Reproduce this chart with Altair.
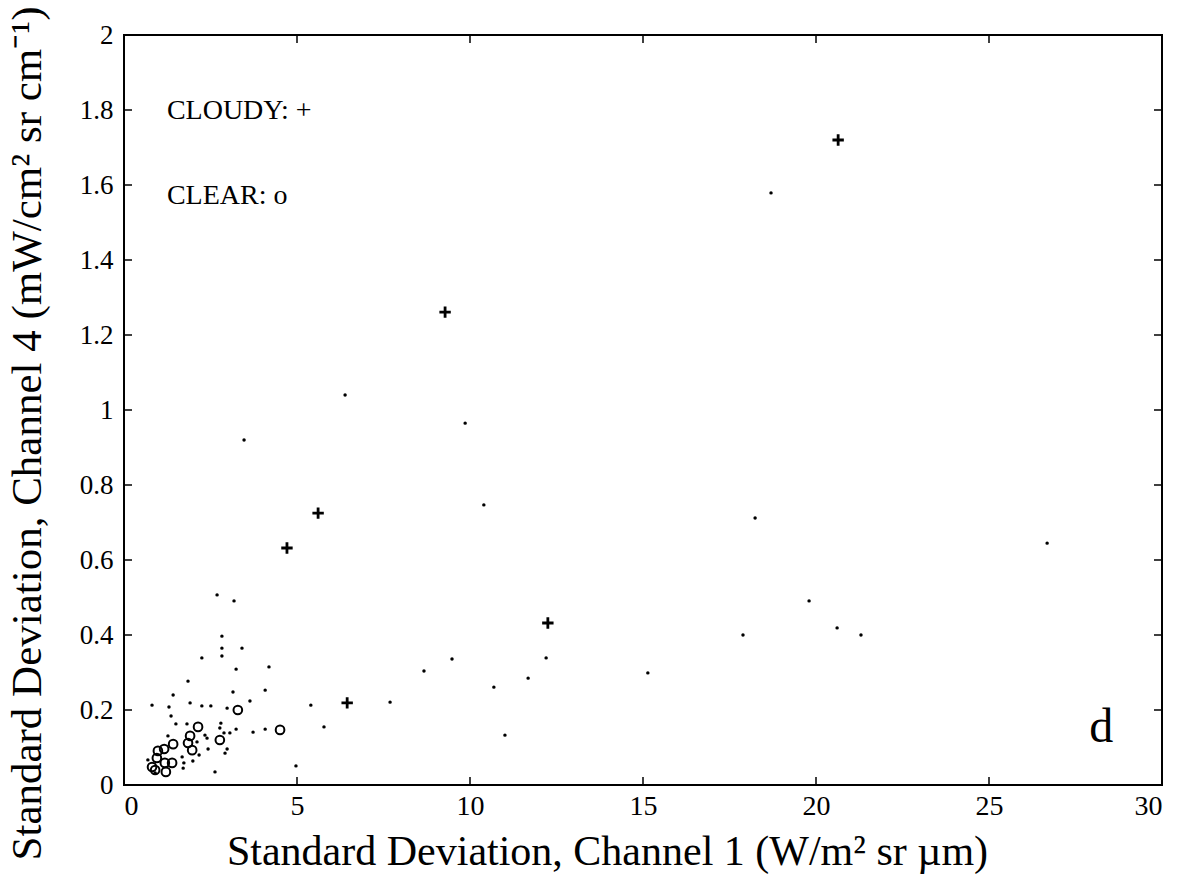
import altair as alt
import pandas as pd

# ---- data ----
cloudy_x = [20.64, 9.28, 5.61, 4.71, 12.25, 6.45]
cloudy_y = [1.72, 1.261, 0.725, 0.632, 0.432, 0.219]

clear_x = [3.29, 4.51, 2.14, 1.91, 1.85, 1.97, 2.77, 1.42, 1.16, 0.98, 1.18, 1.21, 1.39, 0.81, 0.90, 0.95]
clear_y = [0.200, 0.147, 0.155, 0.131, 0.112, 0.093, 0.120, 0.109, 0.096, 0.091, 0.059, 0.035, 0.059, 0.048, 0.040, 0.072]

other_x = [3.47, 6.39, 9.86, 10.40, 18.70, 18.24, 26.68, 19.80, 17.89, 20.61, 21.30, 15.14, 12.20,
           11.68, 11.01, 10.69, 9.48, 8.67, 7.69, 5.78, 5.40, 4.97, 4.19, 4.08, 3.73, 4.08, 2.69,
           3.18, 2.83, 2.83, 3.41, 2.83, 2.25, 3.24, 1.85, 3.15, 1.42, 3.64, 0.81, 1.30, 1.91, 2.25,
           2.51, 2.98, 1.36, 1.50, 1.82, 2.80, 2.77, 3.24, 1.27, 2.11, 2.40, 2.43, 2.17, 1.68, 1.73,
           1.71, 1.99, 2.89, 3.06, 2.98, 2.92, 2.63, 0.69, 0.90, 2.34]
other_y = [0.92, 1.04, 0.965, 0.747, 1.579, 0.712, 0.645, 0.491, 0.40, 0.419, 0.40, 0.299, 0.339,
           0.285, 0.133, 0.261, 0.336, 0.304, 0.221, 0.155, 0.213, 0.051, 0.315, 0.253, 0.141, 0.149, 0.507,
           0.491, 0.397, 0.365, 0.365, 0.344, 0.339, 0.309, 0.277, 0.248, 0.24, 0.224, 0.213, 0.208, 0.219, 0.211,
           0.211, 0.205, 0.184, 0.163, 0.163, 0.165, 0.152, 0.149, 0.131, 0.115, 0.125, 0.096, 0.080, 0.075, 0.059,
           0.045, 0.064, 0.139, 0.139, 0.096, 0.085, 0.035, 0.067, 0.032, 0.133]

x_ticks = [5, 10, 15, 20, 25]
y_ticks = [0.2, 0.4, 0.6, 0.8, 1.0, 1.2, 1.4, 1.6, 1.8]
x_labels = [0, 5, 10, 15, 20, 25, 30]
y_labels = [0, 0.2, 0.4, 0.6, 0.8, 1, 1.2, 1.4, 1.6, 1.8, 2]

legend_text = ["CLOUDY: +", "CLEAR: o"]
legend_x = [1.24, 1.24]
legend_y = [1.797, 1.57]

panel_text = ["d"]
panel_x = [27.9]
panel_y = [0.115]

X_TITLE = "Standard Deviation, Channel 1 (W/m\u00b2 sr \u00b5m)"
Y_TITLE = "Standard Deviation, Channel 4 (mW/cm\u00b2 sr cm\u207b\u00b9)"

W, H = 1038, 750
FONT = "Liberation Serif"

xs = alt.Scale(domain=[0, 30], nice=False, zero=False)
ys = alt.Scale(domain=[0, 2], nice=False, zero=False)

df_cloudy = pd.DataFrame({"x": cloudy_x, "y": cloudy_y})
df_clear = pd.DataFrame({"x": clear_x, "y": clear_y})
df_other = pd.DataFrame({"x": other_x, "y": other_y})
df_xt = pd.DataFrame({"x": x_ticks})
df_yt = pd.DataFrame({"y": y_ticks})
df_leg = pd.DataFrame({"t": legend_text, "x": legend_x, "y": legend_y})
df_pan = pd.DataFrame({"t": panel_text, "x": panel_x, "y": panel_y})

x_axis = alt.Axis(
    values=x_labels, format="d", domain=False, ticks=False, grid=False,
    labelFont=FONT, labelFontSize=28, labelColor="black", labelPadding=7, labelBaseline="top",
    title=X_TITLE, titleFont=FONT, titleFontSize=42, titleFontWeight="normal", titleColor="black",
    titleX=483, titleY=66, titleAlign="center", titleBaseline="middle",
)
y_axis = alt.Axis(
    values=y_labels, domain=False, ticks=False, grid=False,
    labelFont=FONT, labelFontSize=27, labelColor="black", labelPadding=11,
    labelExpr="datum.value == 0 ? '0' : (datum.value == 1 ? '1' : (datum.value == 2 ? '2' : format(datum.value, '.1f')))",
    title=Y_TITLE, titleFont=FONT, titleFontSize=43, titleFontWeight="normal", titleColor="black",
    titleX=-97, titleY=398, titleAlign="center", titleBaseline="middle", titleAngle=-90,
)

X = lambda: alt.X("x:Q", scale=xs, axis=x_axis)
Y = lambda: alt.Y("y:Q", scale=ys, axis=y_axis)

dots = alt.Chart(df_other).mark_point(filled=True, color="black", size=12, opacity=1).encode(x=X(), y=Y())
circles = alt.Chart(df_clear).mark_point(shape="circle", filled=False, color="black", size=75,
                                         strokeWidth=2, opacity=1).encode(x=X(), y=Y())
crosses = alt.Chart(df_cloudy).mark_point(shape="M-1,0H1M0,-1V1", filled=False, color="black", size=130,
                                          strokeWidth=2.8, opacity=1).encode(x=X(), y=Y())

tick_bottom = alt.Chart(df_xt).mark_rule(color="black", strokeWidth=1.5).encode(
    x=X(), y=alt.value(H), y2=alt.value(H - 8))
tick_top = alt.Chart(df_xt).mark_rule(color="black", strokeWidth=1.5).encode(
    x=X(), y=alt.value(0), y2=alt.value(8))
tick_left = alt.Chart(df_yt).mark_rule(color="black", strokeWidth=1.5).encode(
    y=Y(), x=alt.value(0), x2=alt.value(8))
tick_right = alt.Chart(df_yt).mark_rule(color="black", strokeWidth=1.5).encode(
    y=Y(), x=alt.value(W), x2=alt.value(W - 8))

legend = alt.Chart(df_leg).mark_text(font=FONT, fontSize=28, align="left", baseline="middle",
                                     color="black").encode(x=X(), y=Y(), text="t:N")
panel = alt.Chart(df_pan).mark_text(font=FONT, fontSize=48, align="left", baseline="alphabetic",
                                    color="black").encode(x=X(), y=Y(), text="t:N")

chart = alt.layer(
    dots, circles, crosses, tick_bottom, tick_top, tick_left, tick_right, legend, panel
).properties(
    width=W, height=H,
    autosize=alt.AutoSizeParams(type="none"),
    padding={"left": 124, "top": 35, "right": 27, "bottom": 91},
    background="white",
).configure(
    font=FONT
).configure_axis(
    labelFont=FONT, titleFont=FONT
).configure_view(
    stroke="black", strokeWidth=2
)

chart.save("out.html", embed_options={"renderer": "svg", "actions": False})
